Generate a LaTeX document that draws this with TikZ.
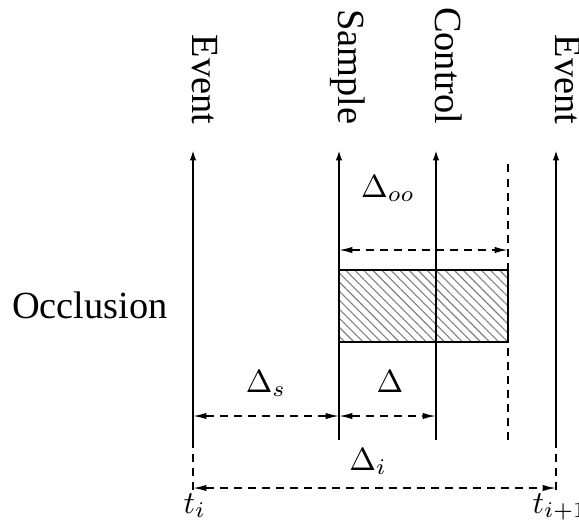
\RequirePackage{fix-cm}
\documentclass[tikz,border=0pt,12pt]{standalone}
\usepackage{fontspec}
\setmainfont{Liberation Serif}
\usetikzlibrary{arrows.meta,patterns.meta}

\begin{document}
\begin{tikzpicture}[x=0.3125pt, y=-0.3125pt,
        tline/.style={-{Latex[length=3.2pt,width=2pt]}, line width=0.6pt},
        dimline/.style={{Latex[length=4.2pt,width=2pt]}-{Latex[length=4.2pt,width=2pt]}, line width=0.5pt, dash pattern=on 2.5pt off 1.9pt},
        guide/.style={line width=0.5pt, dash pattern=on 2.5pt off 1.9pt},
        vlabel/.style={rotate=-90, anchor=base east, inner sep=0pt},
        mlabel/.style={font=\fontsize{10}{12}\selectfont, inner sep=0pt, anchor=base}]
        \useasboundingbox (0,0) rectangle (579,522);

        % occlusion interval
        \draw[line width=0.5pt, pattern={Lines[angle=-45,distance=2pt,line width=0.35pt]}, pattern color=gray] (339,270) rectangle (508,342);

        % time lines
        \coordinate (E1) at (193,440); \coordinate (E1top) at (193,150);
        \coordinate (S) at (339,440); \coordinate (Stop) at (339,150);
        \coordinate (C) at (436,440); \coordinate (Ctop) at (436,150);
        \coordinate (O) at (508,440); \coordinate (Otop) at (508,160);
        \coordinate (E2) at (556,440); \coordinate (E2top) at (556,150);

        \draw[tline] (E1) -- (E1top);
        \draw[tline] (S) -- (Stop);
        \draw[tline] (C) -- (Ctop);
        \draw[guide] (O) -- (Otop);
        \draw[tline] (E2) -- (E2top);

        \node[vlabel] (ev1) at (192,125) {Event};
        \node[vlabel] (smp) at (338,125) {Sample};
        \node[vlabel] (ctl) at (435,125) {Control};
        \node[vlabel] (ev2) at (555,125) {Event};
        \node[anchor=base, inner sep=0pt] (occ) at (90,318) {Occlusion};

        % intervals
        \coordinate (ti) at (193,488); \coordinate (tj) at (556,488);
        \draw[guide] (E1) -- (193,490);
        \draw[guide] (E2) -- (556,490);
        \draw[dimline] (ti) -- (tj);

        \coordinate (Es) at (193,416); \coordinate (Ss) at (339,416); \coordinate (Cs) at (436,416);
        \draw[dimline] (Es) -- (Ss);
        \draw[dimline] (Ss) -- (Cs);

        \coordinate (So) at (339,250); \coordinate (Oo) at (508,250);
        \draw[dimline] (So) -- (Oo);

        \node[mlabel] (ds) at (266,392) {$\Delta_s$};
        \node[mlabel] (d) at (390,392) {$\Delta$};
        \node[mlabel] (di) at (368,470) {$\Delta_i$};
        \node[mlabel] (doo) at (388,197) {$\Delta_{oo}$};
        \node[mlabel, anchor=base west] (lti) at (183,513) {$t_i$};
        \node[mlabel, anchor=base west] (ltj) at (532,513) {$t_{i+1}$};
\end{tikzpicture}
\end{document}
